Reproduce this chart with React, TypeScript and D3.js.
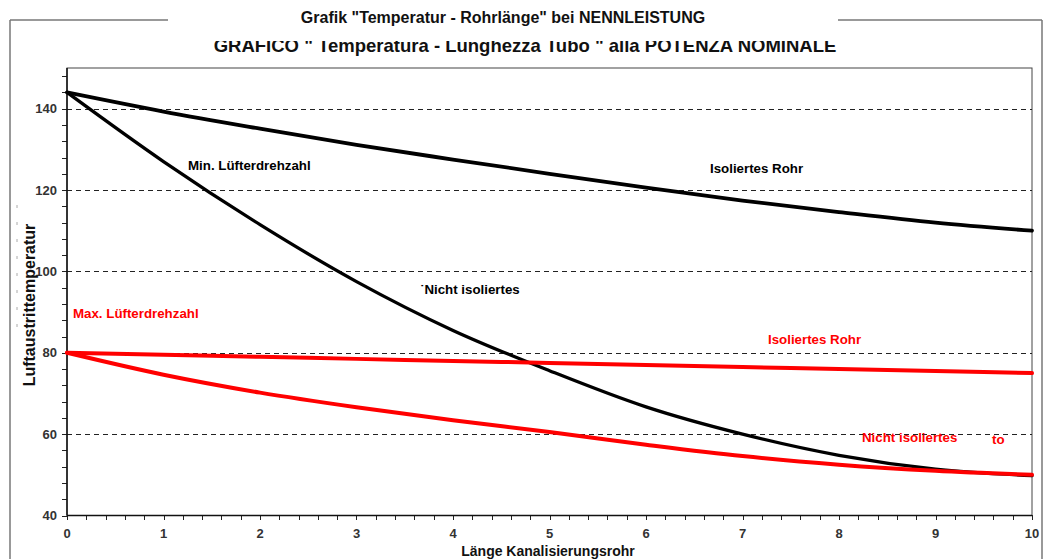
import React from "react";
import * as d3 from "d3";

const lengths = [0, 1, 2, 3, 4, 5, 6, 7, 8, 9, 10];
const minIsoliert = [144, 139.3, 135.1, 131.1, 127.5, 124.0, 120.6, 117.4, 114.6, 112.0, 110];
const minNichtIsoliert = [144, 127.0, 111.5, 97.5, 85.5, 75.6, 66.7, 60.0, 54.8, 51.4, 49.8];
const maxIsoliert = [80, 79.5, 79, 78.5, 78, 77.5, 77, 76.5, 76, 75.5, 75];
const maxNichtIsoliert = [80, 74.6, 70.2, 66.6, 63.4, 60.5, 57.4, 54.6, 52.5, 51.0, 50];

const yTickLabels = [40, 60, 80, 100, 120, 140];
const xTickLabels = [0, 1, 2, 3, 4, 5, 6, 7, 8, 9, 10];

const W = 1048;
const H = 559;
const FONT = "'Liberation Sans', Arial, sans-serif";

export default function App() {
  const x = d3.scaleLinear().domain([0, 10]).range([67, 1032]);
  const y = d3.scaleLinear().domain([40, 150]).range([515.5, 68]);

  const line = (vals: number[]) =>
    d3
      .line<number>()
      .x((_, i) => x(lengths[i]))
      .y((v) => y(v))
      .curve(d3.curveMonotoneX)(vals) || "";

  const yMinor = d3.range(40, 150.01, 4);
  const xMinor = d3.range(0, 10.001, 0.2);

  const series = [
    { vals: minIsoliert, color: "#000", w: 3.8 },
    { vals: minNichtIsoliert, color: "#000", w: 3.3 },
    { vals: maxIsoliert, color: "#ff0000", w: 4 },
    { vals: maxNichtIsoliert, color: "#ff0000", w: 4 },
  ];

  const labels = [
    { t: "Min. Lüfterdrehzahl", x: 188, y: 170, c: "#000" },
    { t: "Isoliertes Rohr", x: 710, y: 173, c: "#000" },
    { t: "˙Nicht isoliertes", x: 420, y: 294, c: "#000" },
    { t: "Max. Lüfterdrehzahl", x: 73, y: 318, c: "#ff0000" },
    { t: "Isoliertes Rohr", x: 768, y: 344, c: "#ff0000" },
    { t: "Nicht isoliertes", x: 862, y: 442, c: "#ff0000" },
    { t: "to", x: 992, y: 444, c: "#ff0000" },
  ];

  return (
    <svg
      width={W}
      height={H}
      style={{ position: "absolute", left: 0, top: 0, background: "#fff" }}
      fontFamily={FONT}
    >
      <defs>
        <clipPath id="titleClip">
          <rect x={0} y={41} width={W} height={20} />
        </clipPath>
      </defs>
      {/* outer frame */}
      <g stroke="#777" strokeWidth={1.5} fill="none">
        <line x1={10} y1={20} x2={168} y2={20} />
        <line x1={838} y1={20} x2={1042} y2={20} />
        <line x1={10} y1={20} x2={10} y2={H} />
        <line x1={1042} y1={20} x2={1042} y2={H} />
      </g>
      <line x1={17} x2={17} y1={205} y2={335} stroke="#aaa" strokeWidth={1} strokeDasharray="3,14" />
      <text x={503} y={23} textAnchor="middle" fontSize={16} fontWeight="bold" fill="#111">
        Grafik "Temperatur - Rohrlänge" bei NENNLEISTUNG
      </text>
      <text
        x={525}
        y={52}
        textAnchor="middle"
        fontSize={18.5}
        fontWeight="bold"
        fill="#111"
        clipPath="url(#titleClip)"
      >
        GRAFICO " Temperatura - Lunghezza Tubo " alla POTENZA NOMINALE
      </text>

      {/* plot frame */}
      <rect x={67} y={68} width={965} height={447.5} fill="none" stroke="#444" strokeWidth={1} />

      {/* grid */}
      <g stroke="#222" strokeWidth={1} strokeDasharray="5,4">
        {yTickLabels
          .filter((v) => v > 40)
          .map((v) => (
            <line key={v} x1={67} x2={1032} y1={Math.round(y(v)) + 0.5} y2={Math.round(y(v)) + 0.5} />
          ))}
      </g>

      {/* ticks */}
      <g stroke="#222" strokeWidth={1}>
        {yMinor.map((v) => (
          <line key={"y" + v} x1={62} x2={67} y1={Math.round(y(v)) + 0.5} y2={Math.round(y(v)) + 0.5} />
        ))}
        {xMinor.map((v) => (
          <line key={"x" + v} x1={Math.round(x(v)) + 0.5} x2={Math.round(x(v)) + 0.5} y1={515} y2={520} />
        ))}
        <line x1={67} x2={67} y1={68} y2={515.5} stroke="#111" strokeWidth={1.5} />
        <line x1={67} x2={1032} y1={515.5} y2={515.5} stroke="#111" strokeWidth={1.5} />
      </g>

      {/* tick labels */}
      <g fontSize={13} fontWeight="bold" fill="#333">
        {yTickLabels.map((v) => (
          <text key={v} x={57} y={y(v) + 4.5} textAnchor="end">
            {v}
          </text>
        ))}
        {xTickLabels.map((v) => (
          <text key={v} x={x(v)} y={538} textAnchor="middle">
            {v}
          </text>
        ))}
      </g>

      {/* axis titles */}
      <text x={548} y={556} textAnchor="middle" fontSize={14} fontWeight="bold" fill="#111">
        Länge Kanalisierungsrohr
      </text>
      <text
        transform="translate(35,305) rotate(-90)"
        textAnchor="middle"
        fontSize={16}
        fontWeight="bold"
        fill="#111"
      >
        Luftaustrittemperatur
      </text>

      {/* series */}
      <g fill="none" strokeLinejoin="round" strokeLinecap="round">
        {series.map((s, i) => (
          <path key={i} d={line(s.vals)} stroke={s.color} strokeWidth={s.w} />
        ))}
      </g>

      {/* in-plot labels */}
      <g fontSize={13.3} fontWeight="bold">
        {labels.map((l, i) => (
          <text key={i} x={l.x} y={l.y} fill={l.c}>
            {l.t}
          </text>
        ))}
      </g>
    </svg>
  );
}
